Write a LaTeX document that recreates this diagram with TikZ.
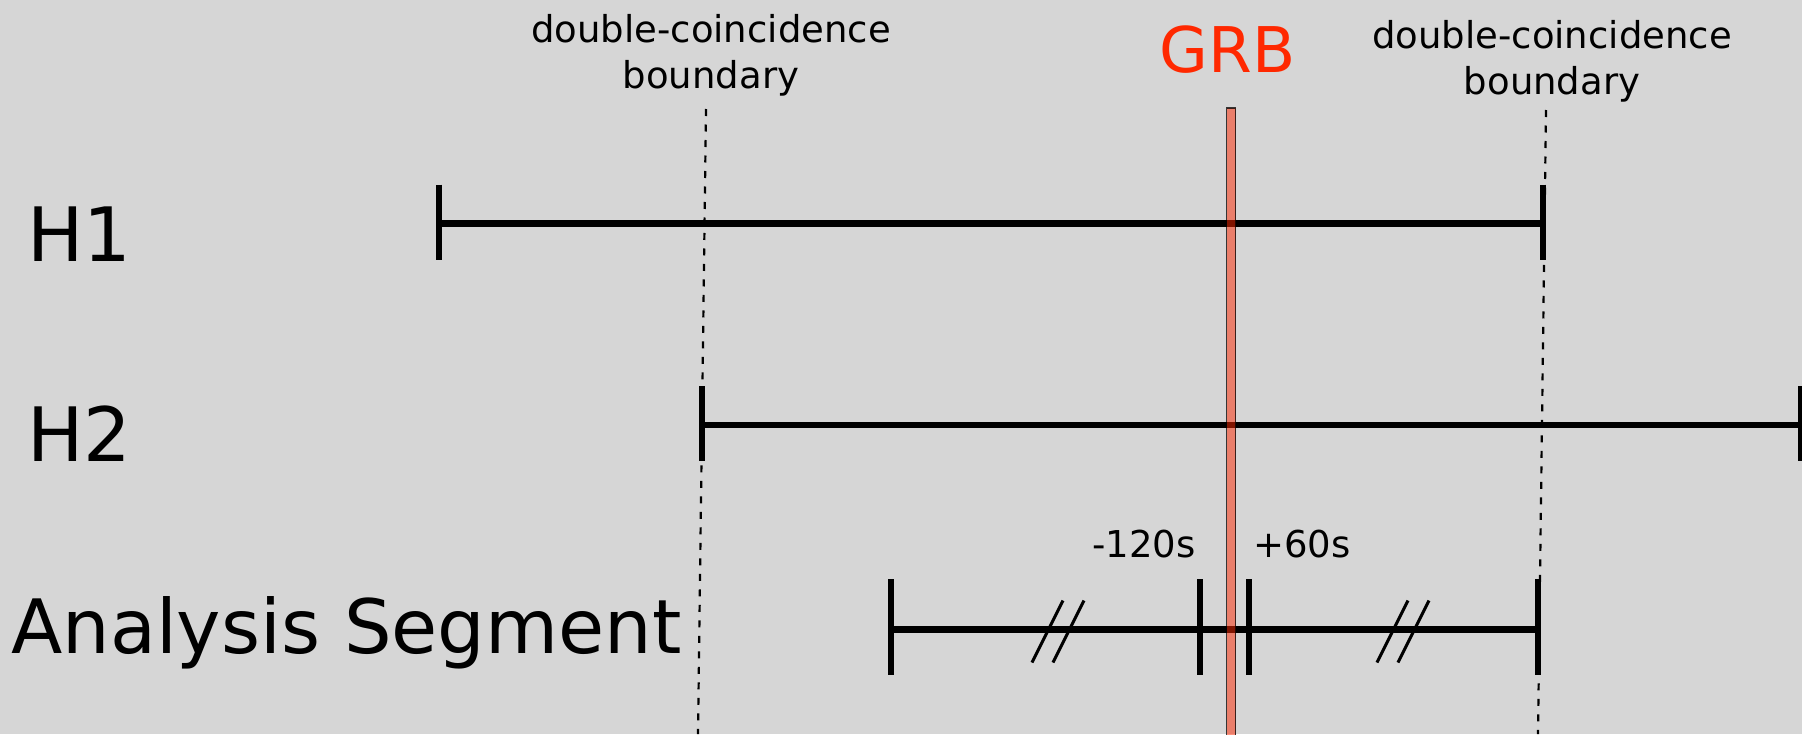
\documentclass[tikz,border=0pt]{standalone}
\usepackage{fontspec}
\setmainfont{DejaVu Sans}
\definecolor{bg}{RGB}{214,214,214}
\definecolor{grbred}{RGB}{255,40,0}
\begin{document}
\begin{tikzpicture}[x=1pt,y=-1pt,
  seg/.style={line width=6.5pt},
  htick/.style={line width=6pt},
  atick/.style={line width=6.5pt},
  bound/.style={dash pattern=on 7pt off 8.5pt, line width=2.2pt},
  slashmark/.style={line width=3pt},
  rowlabel/.style={font=\fontsize{75}{85}\selectfont, anchor=base west, inner sep=0pt},
  smalltext/.style={font=\fontsize{37}{46}\selectfont, inner sep=0pt, anchor=base, align=center},
  band/.style={rectangle, inner sep=0pt, minimum width=9pt, minimum height=640pt,
    fill=grbred, fill opacity=0.5, draw=black, draw opacity=0.75, line width=1.5pt}
]
\fill[bg] (0,0) rectangle (1802,734);
\useasboundingbox (0,0) rectangle (1802,734);

% coordinates
\coordinate (db1t) at (706,109);
\coordinate (db1b) at (698,734);
\coordinate (db2t) at (1546,110);
\coordinate (db2b) at (1538,734);
\coordinate (h1a) at (439,223.5);
\coordinate (h1b) at (1543,223.5);
\coordinate (h2a) at (702,425);
\coordinate (h2b) at (1801,425);
\coordinate (asa) at (891,629.5);
\coordinate (asm) at (1200,629.5);
\coordinate (asp) at (1249,629.5);
\coordinate (asb) at (1538,629.5);
\coordinate (s1) at (1047.5,631.5);
\coordinate (s2) at (1068.5,631.5);
\coordinate (s3) at (1392.5,631.5);
\coordinate (s4) at (1413.5,631.5);

% boundary lines
\draw[bound] (db1t) -- (db1b);
\draw[bound] (db2t) -- (db2b);

% H1
\draw[seg] (h1a) -- (h1b);
\draw[htick] ([yshift=39pt]h1a) -- ([yshift=-36pt]h1a);
\draw[htick] ([yshift=39pt]h1b) -- ([yshift=-36pt]h1b);
% H2
\draw[seg] (h2a) -- (h2b);
\draw[htick] ([yshift=39pt]h2a) -- ([yshift=-36pt]h2a);
\draw[htick] ([yshift=39pt]h2b) -- ([yshift=-36pt]h2b);
% Analysis segment
\draw[seg] (asa) -- (asb);
\foreach \c in {asa,asm,asp,asb}
  \draw[atick] ([yshift=50.5pt]\c) -- ([yshift=-45.5pt]\c);
\foreach \c in {s1,s2,s3,s4}
  \draw[slashmark] ([shift={(-15.5,31)}]\c) -- ([shift={(15.5,-31)}]\c);

% GRB band
\node[band, anchor=north] (grbband) at (1231,107) {};

% texts
\node[smalltext] (lbl1) at (711,88) {double-coincidence\\boundary};
\node[smalltext] (lbl2) at (1552,94) {double-coincidence\\boundary};
\node[font=\fontsize{63}{70}\selectfont, text=grbred, inner sep=0pt, anchor=base] (grb) at (1227.5,72) {GRB};
\node[rowlabel] (h1) at (27,261) {H1};
\node[rowlabel] (h2) at (27,461) {H2};
\node[rowlabel] (anal) at (11,653) {Analysis Segment};
\node[smalltext] (m120) at (1144,557) {-120s};
\node[smalltext] (p60) at (1302,557) {+60s};
\end{tikzpicture}
\end{document}
